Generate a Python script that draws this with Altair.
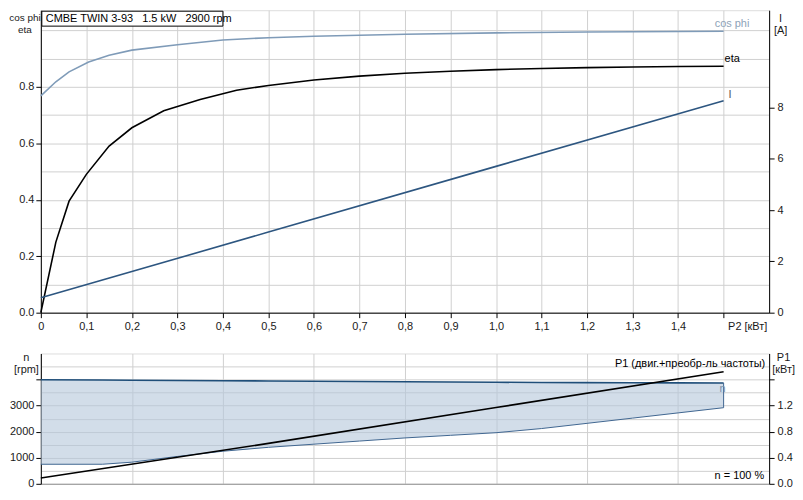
import altair as alt
import pandas as pd

FONT = "Liberation Sans"

# ---------------- data ----------------
p2_cos = [0, 0.033, 0.062, 0.105, 0.15, 0.2, 0.3, 0.4, 0.5, 0.6, 0.8, 1.0, 1.2, 1.5]
cos_phi = [0.768, 0.818, 0.853, 0.888, 0.912, 0.93, 0.949, 0.966, 0.974, 0.979, 0.986, 0.991, 0.994, 0.997]

p2_eta = [0, 0.033, 0.062, 0.1, 0.15, 0.2, 0.27, 0.35, 0.43, 0.5, 0.6, 0.7, 0.8, 0.9, 1.0, 1.1, 1.2, 1.3, 1.4, 1.5]
eta = [0, 0.25, 0.395, 0.49, 0.59, 0.655, 0.715, 0.755, 0.788, 0.805, 0.824, 0.838, 0.848, 0.855, 0.861,
       0.865, 0.868, 0.870, 0.872, 0.873]

p2_i = [0, 0.5, 1.0, 1.5]
current = [0.58, 3.14, 5.70, 8.26]

p2_n = [0, 0.135, 0.2, 0.3, 0.4, 0.5, 0.6, 0.7, 0.8, 0.9, 1.0, 1.1, 1.2, 1.3, 1.4, 1.5]
n_upper = [3990, 3980, 3975, 3965, 3955, 3945, 3935, 3925, 3915, 3905, 3895, 3888, 3882, 3877, 3873, 3870]
n_lower = [750, 750, 830, 1050, 1250, 1400, 1520, 1640, 1760, 1860, 1960, 2120, 2320, 2520, 2720, 2920]

p2_p1 = [0, 0.5, 1.0, 1.5]
p1 = [0.09, 0.62, 1.17, 1.72]

# tick values
x_ticks_top = [round(i * 0.1, 1) for i in range(16)]
x_ticks_bottom = [round(i * 0.2, 1) for i in range(8)]
y_ticks_eta = [round(i * 0.1, 1) for i in range(11)]
y_ticks_i = [0, 2, 4, 6, 8]
y_ticks_n = [i * 500 for i in range(10)]
y_ticks_p1 = [0, 0.4, 0.8, 1.2, 1.6]

title_text = "CMBE TWIN 3-93\u00a0\u00a0\u00a01.5 kW\u00a0\u00a0\u00a02900 rpm"

# ---------------- frames ----------------
df_cos = pd.DataFrame({"p2": p2_cos, "v": cos_phi})
df_eta = pd.DataFrame({"p2": p2_eta, "v": eta})
df_i = pd.DataFrame({"p2": p2_i, "v": current})
df_n = pd.DataFrame({"p2": p2_n, "hi": n_upper, "lo": n_lower})
df_edge = pd.DataFrame({"p2": [p2_n[-1]], "hi": [n_upper[-1]], "lo": [n_lower[-1]]})
df_p1 = pd.DataFrame({"p2": p2_p1, "v": p1})

W = 732
H_TOP = 304
H_BOT = 131
GRID = "#d0d0d0"
LBL = "#1a1a1a"

xscale = alt.Scale(domain=[0, 1.6], nice=False, zero=False)

x_axis_top = alt.Axis(
    values=x_ticks_top, grid=True, gridColor=GRID, domainColor="black", tickColor="black",
    tickSize=5, labelPadding=3, labelFontSize=11, labelColor=LBL, labelFlush=False, labelOverlap=False,
    labelExpr="datum.value == 0 ? '0' : (datum.value > 1.45 ? 'P2 [кВт]' : replace(format(datum.value, '.1f'), '.', ','))",
    labelAlign={"condition": {"test": "datum.value > 1.45", "value": "left"}, "value": "center"},
    labelOffset={"condition": {"test": "datum.value > 1.45", "value": 4}, "value": 0},
    title=None,
)
x_axis_bot = alt.Axis(values=x_ticks_bottom, grid=True, gridColor=GRID, domainColor="#999999",
                      ticks=False, labels=False, title=None)

yscale_eta = alt.Scale(domain=[0, H_TOP / 283.75], nice=False, zero=False)
yscale_i = alt.Scale(domain=[0, 11 * H_TOP / 283.75], nice=False, zero=False)
yscale_n = alt.Scale(domain=[0, 5000], nice=False, zero=False)
yscale_p1 = alt.Scale(domain=[0, 2.0], nice=False, zero=False)

y_axis_eta = alt.Axis(
    values=y_ticks_eta, grid=True, gridColor=GRID, domainColor="black",
    tickColor={"condition": {"test": "round(datum.value*10) % 2 == 1 || datum.value > 0.85", "value": "transparent"}, "value": "black"},
    tickSize=5, labelPadding=2, labelFontSize=11, labelColor=LBL, labelFlush=False, labelOverlap=False,
    labelExpr="(round(datum.value*10) % 2 == 0 && datum.value < 0.85) ? format(datum.value, '.1f') : ''",
    title=["cos phi", "eta"], titleAngle=0, titleAlign="center", titleBaseline="alphabetic",
    titleX=-16.5, titleY=10, titleFontSize=10, titleFontWeight="normal", titleLineHeight=12, titleColor=LBL,
)
y_axis_i = alt.Axis(
    orient="right", values=y_ticks_i, grid=False, domainColor="black", tickColor="black",
    tickSize=5, labelPadding=3, labelFontSize=11, labelColor=LBL, labelFlush=False, labelOverlap=False,
    format="d",
    title=["I", "[A]"], titleAngle=0, titleAlign="center", titleBaseline="alphabetic",
    titleX=11, titleY=11, titleFontSize=11, titleFontWeight="normal", titleLineHeight=12, titleColor=LBL,
)
y_axis_n = alt.Axis(
    values=y_ticks_n, grid=True, gridColor=GRID, domainColor="black",
    tickColor={"condition": {"test": "datum.value % 1000 != 0", "value": "transparent"}, "value": "black"},
    tickSize=5, labelPadding=2, labelFontSize=11, labelColor=LBL, labelFlush=False, labelOverlap=False,
    labelExpr="(datum.value % 1000 == 0 && datum.value <= 3000) ? format(datum.value, 'd') : ''",
    title=["n", "[rpm]"], titleAngle=0, titleAlign="center", titleBaseline="alphabetic",
    titleX=-15, titleY=7, titleFontSize=11, titleFontWeight="normal", titleLineHeight=12, titleColor=LBL,
)
y_axis_p1 = alt.Axis(
    orient="right", values=y_ticks_p1, grid=False, domainColor="black", tickColor="black",
    tickSize=5, labelPadding=3, labelFontSize=11, labelColor=LBL, labelFlush=False, labelOverlap=False,
    labelExpr="datum.value > 1.5 ? '' : format(datum.value, '.1f')",
    title=["P1", "[кВт]"], titleAngle=0, titleAlign="center", titleBaseline="alphabetic",
    titleX=14, titleY=7, titleFontSize=11, titleFontWeight="normal", titleLineHeight=12, titleColor=LBL,
)

X_TOP = alt.X("p2:Q", scale=xscale, axis=x_axis_top)
X_BOT = alt.X("p2:Q", scale=xscale, axis=x_axis_bot)

# ---------------- top chart ----------------
cos_line = alt.Chart(df_cos).mark_line(color="#7f9bb8", strokeWidth=1.6).encode(
    x=X_TOP, y=alt.Y("v:Q", scale=yscale_eta, axis=y_axis_eta))
eta_line = alt.Chart(df_eta).mark_line(color="black", strokeWidth=1.6).encode(
    x=X_TOP, y=alt.Y("v:Q", scale=yscale_eta, axis=y_axis_eta))
cos_lbl = alt.Chart(df_cos.tail(1).assign(t="cos phi")).mark_text(
    align="left", baseline="bottom", dx=-9, dy=-2, fontSize=11, font=FONT, color="#8ea3b8").encode(
    x=X_TOP, y=alt.Y("v:Q", scale=yscale_eta, axis=y_axis_eta), text="t:N")
eta_lbl = alt.Chart(df_eta.tail(1).assign(t="eta")).mark_text(
    align="left", baseline="bottom", dx=1, dy=-2, fontSize=11, font=FONT, color="black").encode(
    x=X_TOP, y=alt.Y("v:Q", scale=yscale_eta, axis=y_axis_eta), text="t:N")

i_line = alt.Chart(df_i).mark_line(color="#2d5680", strokeWidth=1.6).encode(
    x=X_TOP, y=alt.Y("v:Q", scale=yscale_i, axis=y_axis_i))
i_lbl = alt.Chart(df_i.tail(1).assign(t="I")).mark_text(
    align="left", baseline="bottom", dx=5, dy=-1, fontSize=11, font=FONT, color="#555555").encode(
    x=X_TOP, y=alt.Y("v:Q", scale=yscale_i, axis=y_axis_i), text="t:N")

df_title = pd.DataFrame({"t": [title_text]})
title_box = alt.Chart(df_title).mark_rect(fill="white", stroke="black", strokeWidth=1).encode(
    x=alt.value(1), x2=alt.value(183), y=alt.value(1), y2=alt.value(16))
title_txt = alt.Chart(df_title).mark_text(align="left", baseline="alphabetic", fontSize=11,
                                          font=FONT, color="black").encode(
    x=alt.value(5), y=alt.value(12), text="t:N")

left_top = alt.layer(cos_line, eta_line, cos_lbl, eta_lbl)
right_top = alt.layer(i_line, i_lbl)
top = alt.layer(left_top, right_top, title_box, title_txt).resolve_scale(y="independent").properties(
    width=W, height=H_TOP)

# ---------------- bottom chart ----------------
area = alt.Chart(df_n).mark_area(color="#b4c6da", opacity=0.6).encode(
    x=X_BOT, y=alt.Y("hi:Q", scale=yscale_n, axis=y_axis_n), y2="lo:Q")
upper = alt.Chart(df_n).mark_line(color="#1f4e79", strokeWidth=1.6).encode(
    x=X_BOT, y=alt.Y("hi:Q", scale=yscale_n, axis=y_axis_n))
lower = alt.Chart(df_n).mark_line(color="#3f6690", strokeWidth=1).encode(
    x=X_BOT, y=alt.Y("lo:Q", scale=yscale_n, axis=y_axis_n))
edge = alt.Chart(df_edge).mark_rule(color="#3f6690", strokeWidth=1).encode(
    x=X_BOT, y=alt.Y("lo:Q", scale=yscale_n, axis=y_axis_n), y2="hi:Q")
n_lbl = alt.Chart(df_edge.assign(t="n", m=3540)).mark_text(
    align="center", baseline="alphabetic", dx=-1, fontSize=11, font=FONT, color="#7890a8").encode(
    x=X_BOT, y=alt.Y("m:Q", scale=yscale_n, axis=y_axis_n), text="t:N")

p1_line = alt.Chart(df_p1).mark_line(color="black", strokeWidth=1.6).encode(
    x=X_BOT, y=alt.Y("v:Q", scale=yscale_p1, axis=y_axis_p1))

df_notes = pd.DataFrame({"t": ["P1 (двиг.+преобр-ль частоты)"]})
p1_note = alt.Chart(df_notes).mark_text(align="right", baseline="alphabetic", fontSize=11,
                                        font=FONT, color="black").encode(
    x=alt.value(728), y=alt.value(14), text="t:N")
df_speed = pd.DataFrame({"t": ["n = 100 %"]})
speed_note = alt.Chart(df_speed).mark_text(align="right", baseline="alphabetic", fontSize=11,
                                           font=FONT, color="black").encode(
    x=alt.value(727), y=alt.value(126), text="t:N")

left_bot = alt.layer(area, upper, lower, edge, n_lbl)
bottom = alt.layer(left_bot, p1_line, p1_note, speed_note).resolve_scale(y="independent").properties(
    width=W, height=H_BOT)

chart = alt.vconcat(top, bottom, spacing=41, bounds="flush").properties(
    padding={"left": 0, "top": 0, "right": 0, "bottom": 0}
).configure_view(strokeWidth=0).configure(font=FONT).configure_axis(labelFont=FONT, titleFont=FONT)

chart.save("out.html", embed_options={"renderer": "svg", "actions": False})
